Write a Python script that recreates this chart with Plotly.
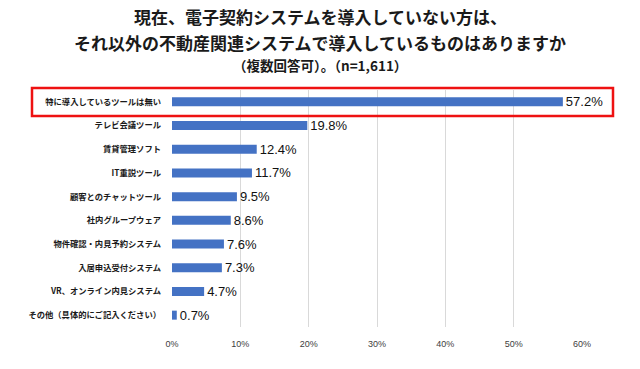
import plotly.graph_objects as go

categories = [
    "特に導入しているツールは無い",
    "テレビ会議ツール",
    "賃貸管理ソフト",
    "IT重説ツール",
    "顧客とのチャットツール",
    "社内グループウェア",
    "物件確認・内見予約システム",
    "入居申込受付システム",
    "VR、オンライン内見システム",
    "その他（具体的にご記入ください）",
]
values = [57.2, 19.8, 12.4, 11.7, 9.5, 8.6, 7.6, 7.3, 4.7, 0.7]
x_ticks = [0, 10, 20, 30, 40, 50, 60]
x_tick_labels = ["0%", "10%", "20%", "30%", "40%", "50%", "60%"]
title_lines = [
    "現在、電子契約システムを導入していない方は、",
    "それ以外の不動産関連システムで導入しているものはありますか",
    "（複数回答可）。（n=1,611）",
]

JP = "Noto Sans CJK JP"

fig = go.Figure(
    go.Bar(
        x=values,
        y=categories,
        orientation="h",
        width=0.38,
        marker=dict(color="#4472C4", line=dict(width=0)),
        text=[f"{v:.1f}%" for v in values],
        textposition="outside",
        constraintext="none",
        textfont=dict(family="Liberation Sans, Arial", size=13, color="#111111"),
        cliponaxis=False,
        hoverinfo="skip",
    )
)

fig.update_layout(
    width=640,
    height=369,
    margin=dict(l=172, r=58, t=90, b=42, autoexpand=False),
    paper_bgcolor="white",
    plot_bgcolor="white",
    showlegend=False,
    xaxis=dict(
        range=[0, 60],
        tickvals=x_ticks,
        ticktext=x_tick_labels,
        showgrid=True,
        gridcolor="#d9d9d9",
        gridwidth=1,
        zeroline=False,
        showline=False,
        automargin=False,
        tickfont=dict(family="Liberation Sans, Arial", size=9, color="#404040"),
        ticks="",
        ticklabelstandoff=10,
        fixedrange=True,
    ),
    yaxis=dict(
        categoryorder="array",
        categoryarray=categories,
        autorange="reversed",
        showgrid=False,
        zeroline=False,
        showline=False,
        automargin=False,
        ticks="",
        tickfont=dict(family=JP, size=8.3, color="#1a1a1a", weight="bold"),
        ticklabelstandoff=10,
        fixedrange=True,
    ),
)

# Title lines
title_pos = [(16, 17), (42, 17), (65, 13.5)]
for text, (ypx, size) in zip(title_lines, title_pos):
    fig.add_annotation(
        text=text,
        xref="paper",
        yref="paper",
        x=(320 - 172) / 410,
        y=(327 - ypx) / 237,
        xanchor="center",
        yanchor="middle",
        showarrow=False,
        font=dict(family=JP, size=size, color="#1a1a1a", weight="bold"),
    )

# Red highlight box around the first category
fig.add_shape(
    type="rect",
    xref="paper",
    yref="paper",
    x0=(32 - 172) / 410,
    x1=(613 - 172) / 410,
    y0=(327 - 116) / 237,
    y1=(327 - 88) / 237,
    line=dict(color="#ee1111", width=2.5),
    fillcolor="rgba(0,0,0,0)",
)

fig.write_html(
    "out.html",
    config={"displayModeBar": False, "staticPlot": True},
    post_script="document.body.style.margin='0';document.body.style.overflow='hidden';",
)
